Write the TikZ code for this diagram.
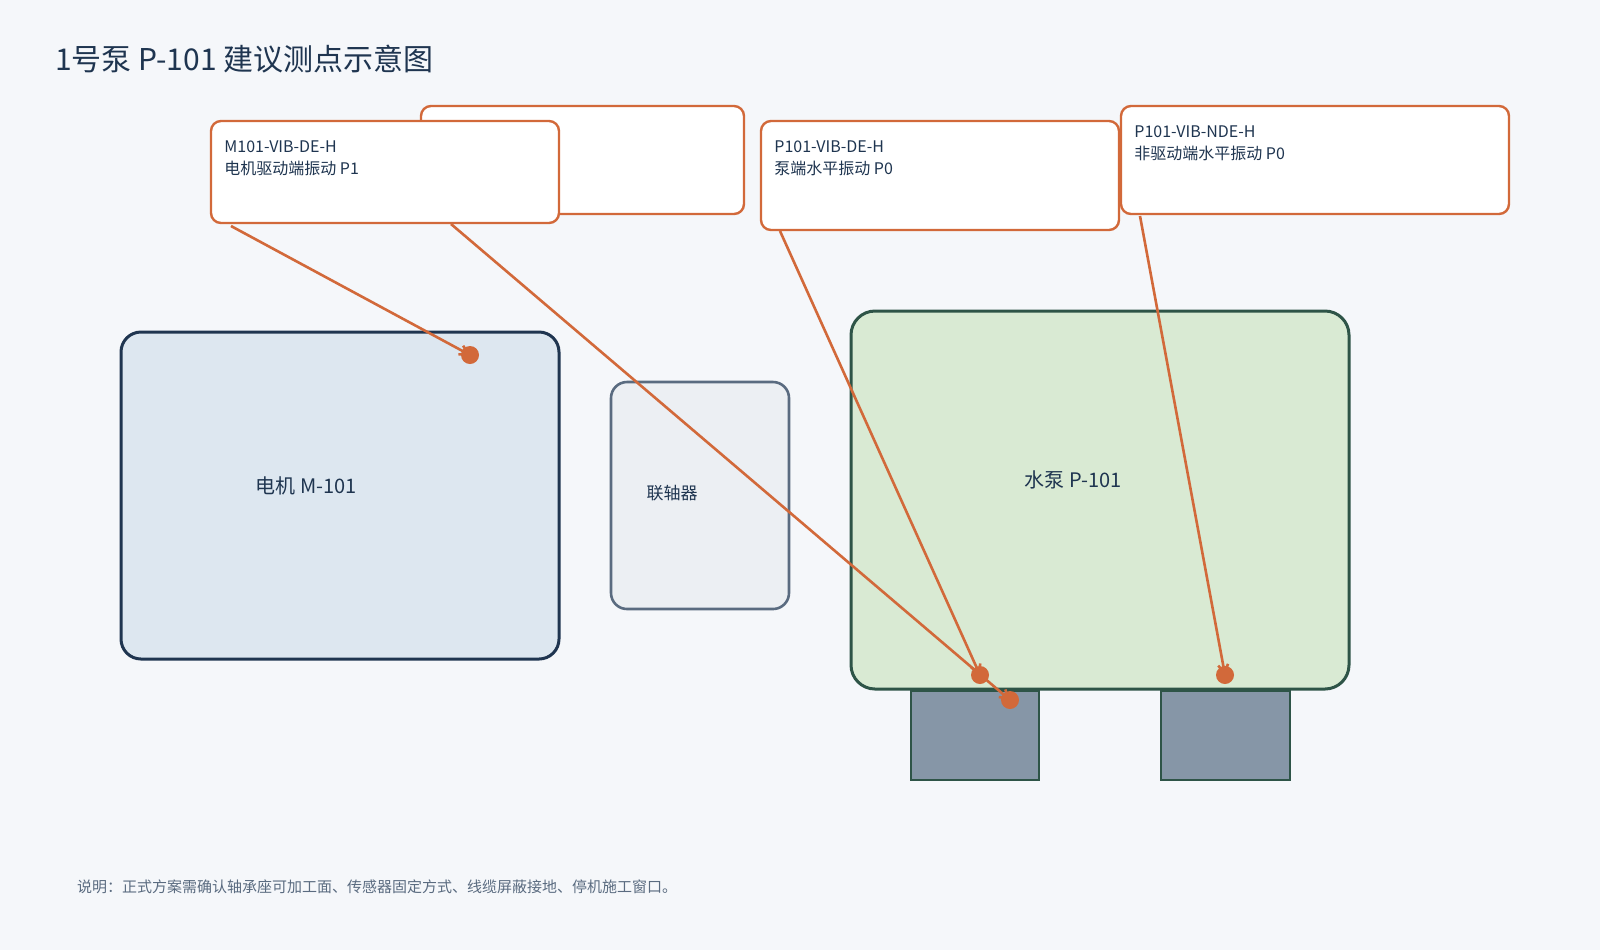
\documentclass[tikz,border=0pt]{standalone}
\usepackage{fontspec}
\setmainfont{Noto Sans CJK SC}
\usetikzlibrary{arrows.meta}
\definecolor{bg}{HTML}{F5F7FA}
\definecolor{ink}{HTML}{1F3550}
\definecolor{gr}{HTML}{5A6B80}
\definecolor{orng}{HTML}{D2693A}
\definecolor{motf}{HTML}{DDE7F0}
\definecolor{cpf}{HTML}{ECEFF3}
\definecolor{pmpf}{HTML}{D9EAD3}
\definecolor{pmpd}{HTML}{2E5447}
\definecolor{foot}{HTML}{8696A7}
\begin{document}
\begin{tikzpicture}[x=0.5pt,y=-0.5pt,
  callout/.style={draw=orng,line width=1.2pt,fill=white,rounded corners=5pt},
  ctext/.style={anchor=north west,align=left,text=ink,font=\fontsize{8}{11}\selectfont,inner sep=0pt},
  lead/.style={draw=orng,line width=1.3pt,-{Straight Barb[length=4pt,width=5pt]}},
  dot/.style={fill=orng,circle,minimum size=9pt,inner sep=0pt}]
\path[use as bounding box,fill=bg] (0,0) rectangle (1600,950);
\node[anchor=west,text=ink,font=\fontsize{15}{18}\selectfont] (title) at (48,59) {1号泵 P-101 建议测点示意图};
% machines
\draw[ink,line width=1.5pt,fill=motf,rounded corners=10pt] (121,332) rectangle (559,659);
\node[text=ink,font=\fontsize{10}{12}\selectfont] (motor) at (306,486) {电机 M-101};
\draw[gr,line width=1.3pt,fill=cpf,rounded corners=8pt] (611,382) rectangle (789,609);
\node[text=ink,font=\fontsize{8.5}{10}\selectfont] (coup) at (672,493) {联轴器};
\draw[pmpd,line width=1.5pt,fill=pmpf,rounded corners=12pt] (851,311) rectangle (1349,689);
\node[text=ink,font=\fontsize{10}{12}\selectfont] (pump) at (1073,480) {水泵 P-101};
\draw[pmpd,line width=1.2pt,fill=foot] (911,691) rectangle (1039,780);
\draw[pmpd,line width=1.2pt,fill=foot] (1161,691) rectangle (1290,780);
% points
\coordinate (pm) at (470,355);
\coordinate (pa) at (1010,700);
\coordinate (pd) at (980,675);
\coordinate (pn) at (1225,675);
% hidden callout
\draw[callout] (421,106) rectangle (744,214);
\node[ctext] at (434,125) {M101-VIB-NDE\\电机非驱动端 P0};
\coordinate (ca) at (451,224);
\draw[lead] (ca) -- (pa);
% M101 callout
\draw[callout] (211,121) rectangle (559,223);
\node[ctext] (cm) at (224,140) {M101-VIB-DE-H\\电机驱动端振动 P1};
\coordinate (cma) at (231,226);
\draw[lead] (cma) -- (pm);
% P101 DE
\draw[callout] (761,121) rectangle (1119,230);
\node[ctext] (cd) at (774,140) {P101-VIB-DE-H\\泵端水平振动 P0};
\coordinate (cda) at (780,231);
\draw[lead] (cda) -- (pd);
% P101 NDE
\draw[callout] (1121,106) rectangle (1509,214);
\node[ctext] (cn) at (1134,125) {P101-VIB-NDE-H\\非驱动端水平振动 P0};
\coordinate (cna) at (1140,216);
\draw[lead] (cna) -- (pn);
\foreach \p in {pm,pa,pd,pn} \node[dot] at (\p) {};
\node[anchor=west,text=gr,font=\fontsize{7.5}{9}\selectfont] (note) at (70,887) {说明：正式方案需确认轴承座可加工面、传感器固定方式、线缆屏蔽接地、停机施工窗口。};
\end{tikzpicture}
\end{document}
